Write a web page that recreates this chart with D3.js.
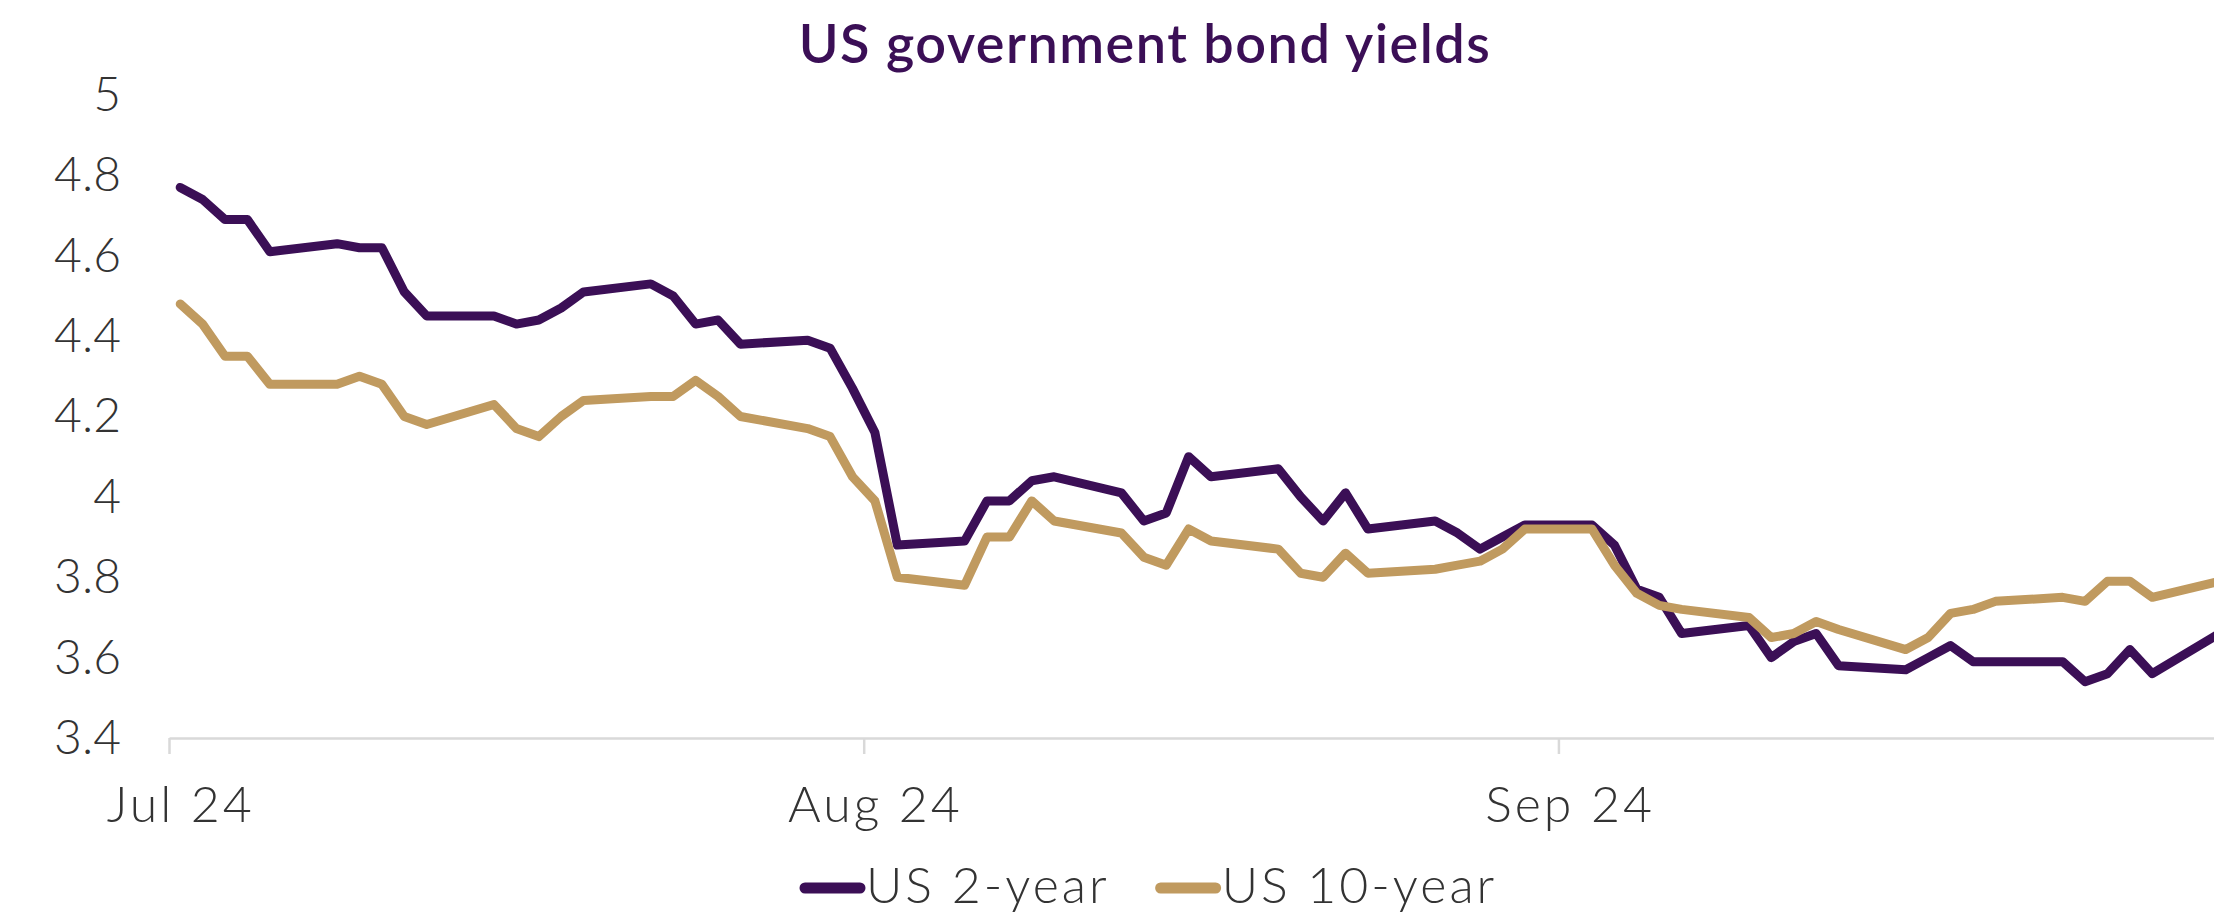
<!DOCTYPE html>
<html>
<head>
<meta charset="utf-8">
<script src="https://cdn.jsdelivr.net/npm/d3@7"></script>
<style>
  html, body { margin: 0; padding: 0; background: #fff; overflow: hidden; }
  svg { display: block; font-family: Lato, "Open Sans", sans-serif; }
  .light { font-family: "Lato Light", Lato, sans-serif; font-weight: 300; }
</style>
</head>
<body>
<svg id="chart" width="2214" height="914"></svg>
<script>
// trading days shown, Jul - Sep 2024
const dates = [
  '2024-07-01','2024-07-02','2024-07-03','2024-07-04','2024-07-05',
  '2024-07-08','2024-07-09','2024-07-10','2024-07-11','2024-07-12',
  '2024-07-15','2024-07-16','2024-07-17','2024-07-18','2024-07-19',
  '2024-07-22','2024-07-23','2024-07-24','2024-07-25','2024-07-26',
  '2024-07-29','2024-07-30','2024-07-31',
  '2024-08-01','2024-08-02',
  '2024-08-05','2024-08-06','2024-08-07','2024-08-08','2024-08-09',
  '2024-08-12','2024-08-13','2024-08-14','2024-08-15','2024-08-16',
  '2024-08-19','2024-08-20','2024-08-21','2024-08-22','2024-08-23',
  '2024-08-26','2024-08-27','2024-08-28','2024-08-29','2024-08-30',
  '2024-09-02','2024-09-03','2024-09-04','2024-09-05','2024-09-06',
  '2024-09-09','2024-09-10','2024-09-11','2024-09-12','2024-09-13',
  '2024-09-16','2024-09-17','2024-09-18','2024-09-19','2024-09-20',
  '2024-09-23','2024-09-24','2024-09-25','2024-09-26','2024-09-27',
  '2024-09-30'
]

const us2y = [
  4.77, 4.74, 4.69, 4.69, 4.61,
  4.63, 4.62, 4.62, 4.51, 4.45,
  4.45, 4.43, 4.44, 4.47, 4.51,
  4.53, 4.50, 4.43, 4.44, 4.38,
  4.39, 4.37, 4.27,
  4.16, 3.88,
  3.89, 3.99, 3.99, 4.04, 4.05,
  4.01, 3.94, 3.96, 4.10, 4.05,
  4.07, 4.00, 3.94, 4.01, 3.92,
  3.94, 3.91, 3.87, 3.90, 3.93,
  3.93, 3.88, 3.77, 3.75, 3.66,
  3.68, 3.60, 3.64, 3.66, 3.58,
  3.57, 3.60, 3.63, 3.59, 3.59,
  3.59, 3.54, 3.56, 3.62, 3.56,
  3.66
]

const us10y = [
  4.48, 4.43, 4.35, 4.35, 4.28,
  4.28, 4.30, 4.28, 4.20, 4.18,
  4.23, 4.17, 4.15, 4.20, 4.24,
  4.25, 4.25, 4.29, 4.25, 4.20,
  4.17, 4.15, 4.05,
  3.99, 3.80,
  3.78, 3.90, 3.90, 3.99, 3.94,
  3.91, 3.85, 3.83, 3.92, 3.89,
  3.87, 3.81, 3.80, 3.86, 3.81,
  3.82, 3.83, 3.84, 3.87, 3.92,
  3.92, 3.83, 3.76, 3.73, 3.72,
  3.70, 3.65, 3.66, 3.69, 3.67,
  3.62, 3.65, 3.71, 3.72, 3.74,
  3.75, 3.74, 3.79, 3.79, 3.75,
  3.79
]

const seriesNames = ['US 2-year', 'US 10-year']
const yTicks = [3.4, 3.6, 3.8, 4, 4.2, 4.4, 4.6, 4.8, 5]
const xTicks = ['2024-07-01', '2024-08-01', '2024-09-01']

const colors = ['#3b0f56', '#c09a5f']

const parse = d3.utcParse('%Y-%m-%d')
const series = [us2y, us10y].map((vals, i) => ({
  name: seriesNames[i],
  values: vals.map((v, j) => ({ date: parse(dates[j]), value: v }))
}))

const svg = d3.select('#chart')

const x = d3.scaleUtc()
  .domain([parse('2024-07-01'), parse('2024-10-01')])
  .range([169, 169 + 92 * 22.41])

const y = d3.scaleLinear()
  .domain([3.4, 5])
  .range([738, 95])

// points sit in the middle of their day
const mid = d => d3.utcHour.offset(d, 12)
const halfDay = x(mid(parse('2024-07-01'))) - x(parse('2024-07-01'))

// title
svg.append('text')
  .attr('x', 1145)
  .attr('y', 63)
  .attr('text-anchor', 'middle')
  .attr('fill', '#3b0f56')
  .style('font-size', '54px')
  .style('font-weight', 600)
  .style('letter-spacing', '1.5px')
  .text('US government bond yields')

// x axis
const xAxis = svg.append('g')
  .attr('transform', 'translate(0,738)')
  .call(d3.axisBottom(x)
    .tickValues(xTicks.map(parse))
    .tickSize(16)
    .tickSizeOuter(0)
    .tickFormat(d3.utcFormat('%b %y')))

xAxis.select('.domain').attr('stroke', '#d9d9d9').attr('stroke-width', 2.5)
xAxis.selectAll('.tick line').attr('stroke', '#d9d9d9').attr('stroke-width', 2.5)
xAxis.selectAll('.tick text')
  .attr('class', 'light')
  .attr('x', halfDay)
  .attr('y', 84)
  .attr('dy', 0)
  .attr('fill', '#333')
  .style('font-size', '50px')
  .style('letter-spacing', '3px')

// y axis
const yAxis = svg.append('g')
  .attr('transform', 'translate(169,0)')
  .call(d3.axisLeft(y)
    .tickValues(yTicks)
    .tickSize(0)
    .tickPadding(48)
    .tickFormat(d3.format('~g')))

yAxis.select('.domain').remove()
yAxis.selectAll('.tick text')
  .attr('class', 'light')
  .attr('fill', '#333')
  .style('font-size', '48px')

// lines
const line = d3.line()
  .x(d => x(mid(d.date)))
  .y(d => y(d.value))

svg.append('g')
  .selectAll('path')
  .data(series)
  .join('path')
    .attr('d', d => line(d.values))
    .attr('fill', 'none')
    .attr('stroke', (d, i) => colors[i])
    .attr('stroke-width', 9)
    .attr('stroke-linejoin', 'round')
    .attr('stroke-linecap', 'round')

// legend
const legend = svg.append('g')
let lx = 805
series.forEach((s, i) => {
  const g = legend.append('g')
  g.append('line')
    .attr('x1', lx).attr('x2', lx + 55)
    .attr('y1', 888).attr('y2', 888)
    .attr('stroke', colors[i])
    .attr('stroke-width', 11)
    .attr('stroke-linecap', 'round')
  const t = g.append('text')
    .attr('class', 'light')
    .attr('x', lx + 61)
    .attr('y', 903)
    .attr('fill', '#333')
    .style('font-size', '50px')
    .style('letter-spacing', '3px')
    .text(s.name)
  lx += 61 + t.node().getComputedTextLength() + 51
})
</script>
</body>
</html>
